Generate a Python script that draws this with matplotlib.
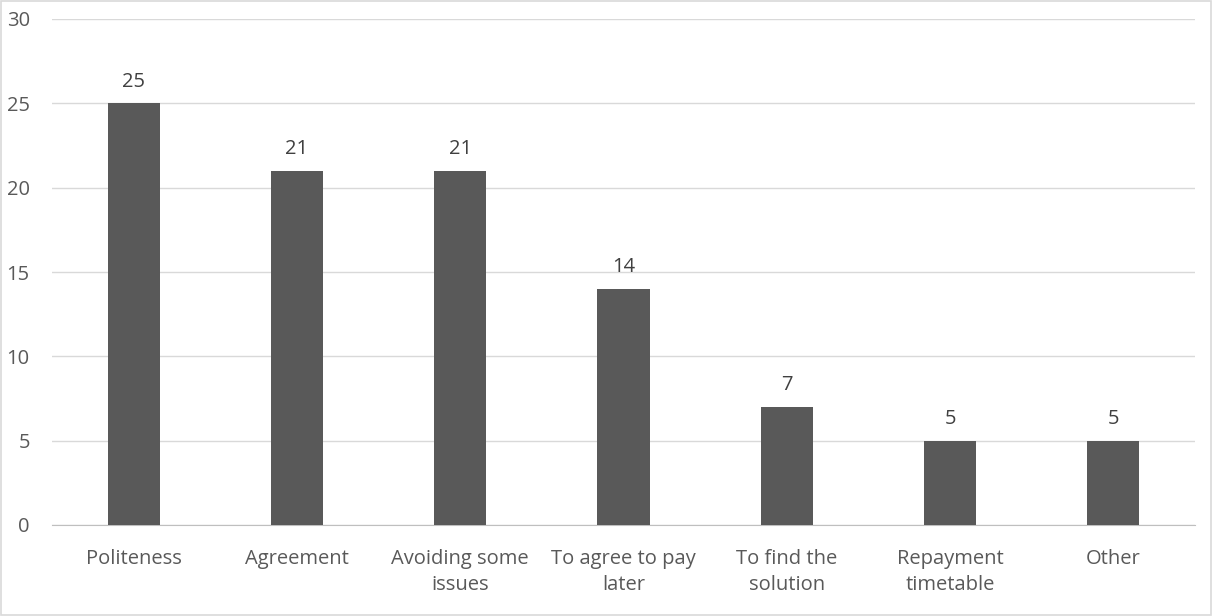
import matplotlib.pyplot as plt
from matplotlib.patches import Rectangle
import numpy as np

categories = ["Politeness", "Agreement", "Avoiding some\nissues", "To agree to pay\nlater",
              "To find the\nsolution", "Repayment\ntimetable", "Other"]
counts = [25, 21, 21, 14, 7, 5, 5]
y_ticks = [0, 5, 10, 15, 20, 25, 30]

text_col = "#595959"
fs = 14.5
plt.rcParams['font.family'] = ['Open Sans', 'DejaVu Sans']

fig = plt.figure(figsize=(12.12, 6.16), dpi=100)
ax = fig.add_axes([52 / 1212, 91 / 616, 1143 / 1212, 506 / 616])

x = np.arange(len(categories))
bars = ax.bar(x, counts, width=0.32, color="#595959", zorder=3)
for b, v in zip(bars, counts):
    ax.text(b.get_x() + b.get_width() / 2, v + 0.7, str(v), ha="center", va="bottom",
            fontsize=fs, color="#404040")

ax.set_xlim(-0.5, len(categories) - 0.5)
ax.set_ylim(0, 30)
ax.set_yticks(y_ticks)
ax.set_xticks(x)
ax.set_xticklabels(categories, fontsize=fs, color=text_col, linespacing=1.45)
ax.tick_params(axis="y", labelsize=fs, labelcolor=text_col, length=0, pad=16)
ax.tick_params(axis="x", length=0, pad=17)
ax.yaxis.grid(True, color="#D9D9D9", linewidth=1, zorder=0)
for s in ["top", "right", "left"]:
    ax.spines[s].set_visible(False)
ax.spines["bottom"].set_color("#BFBFBF")

# thin frame around the chart
fig.patches.append(Rectangle((1 / 1212, 1 / 616), 1210 / 1212, 614 / 616,
                             transform=fig.transFigure, fill=False,
                             edgecolor="#D9D9D9", linewidth=1.2))

fig.savefig("out.png", dpi=100)
